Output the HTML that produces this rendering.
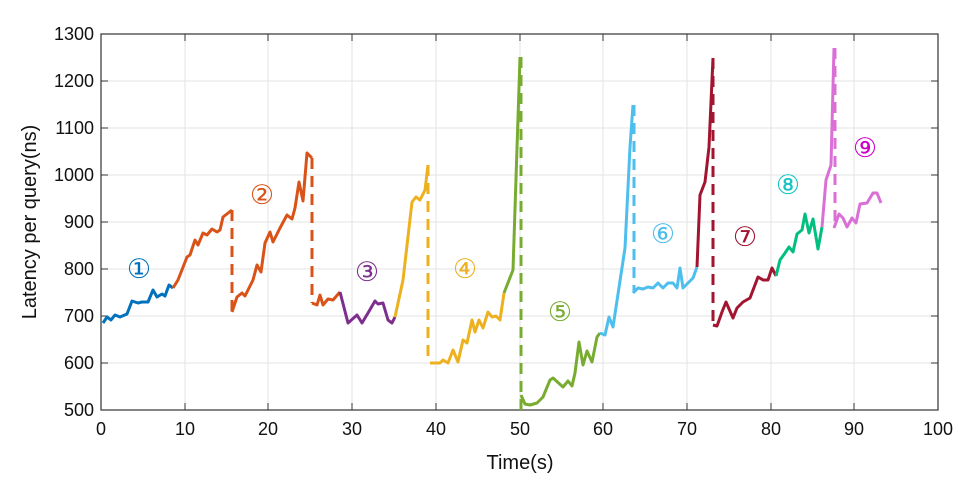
<!DOCTYPE html>
<html><head><style>body{margin:0;background:#fff}</style></head><body>
<svg width="977" height="485" xmlns="http://www.w3.org/2000/svg" font-family="Liberation Sans, DejaVu Sans, sans-serif">
<rect width="977" height="485" fill="#fff"/>
<g stroke="#e3e3e3" stroke-width="1">
<line x1="185" y1="34" x2="185" y2="410"/><line x1="268" y1="34" x2="268" y2="410"/><line x1="352" y1="34" x2="352" y2="410"/><line x1="436" y1="34" x2="436" y2="410"/><line x1="520" y1="34" x2="520" y2="410"/><line x1="603" y1="34" x2="603" y2="410"/><line x1="687" y1="34" x2="687" y2="410"/><line x1="771" y1="34" x2="771" y2="410"/><line x1="854" y1="34" x2="854" y2="410"/>
<line x1="101" y1="81" x2="938" y2="81"/><line x1="101" y1="128" x2="938" y2="128"/><line x1="101" y1="175" x2="938" y2="175"/><line x1="101" y1="222" x2="938" y2="222"/><line x1="101" y1="269" x2="938" y2="269"/><line x1="101" y1="316" x2="938" y2="316"/><line x1="101" y1="363" x2="938" y2="363"/>
</g>
<rect x="101" y="34" width="837" height="376" fill="none" stroke="#333" stroke-width="1.2"/>
<g stroke="#333" stroke-width="1">
<path d="M185,410v-7M268,410v-7M352,410v-7M436,410v-7M520,410v-7M603,410v-7M687,410v-7M771,410v-7M854,410v-7M185,34v7M268,34v7M352,34v7M436,34v7M520,34v7M603,34v7M687,34v7M771,34v7M854,34v7"/>
<path d="M101,81h7M101,128h7M101,175h7M101,222h7M101,269h7M101,316h7M101,363h7M938,81h-7M938,128h-7M938,175h-7M938,222h-7M938,269h-7M938,316h-7M938,363h-7"/>
</g>
<g font-size="18" fill="#111" text-anchor="end">
<text x="94" y="40">1300</text><text x="94" y="87">1200</text><text x="94" y="134">1100</text><text x="94" y="181">1000</text><text x="94" y="228">900</text><text x="94" y="275">800</text><text x="94" y="322">700</text><text x="94" y="369">600</text><text x="94" y="416">500</text>
</g>
<g font-size="18" fill="#111" text-anchor="middle">
<text x="101" y="435">0</text><text x="185" y="435">10</text><text x="268" y="435">20</text><text x="352" y="435">30</text><text x="436" y="435">40</text><text x="520" y="435">50</text><text x="603" y="435">60</text><text x="687" y="435">70</text><text x="771" y="435">80</text><text x="854" y="435">90</text><text x="938" y="435">100</text>
</g>
<text x="520" y="469" font-size="20" text-anchor="middle" fill="#111">Time(s)</text>
<text transform="translate(36,222) rotate(-90)" font-size="20" text-anchor="middle" fill="#111">Latency per query(ns)</text>
<g fill="none" stroke-width="3" stroke-linejoin="round">
<polyline stroke="#0072BD" points="103,323 107,317 111,320 115,315 120,317 127,314 132,301 138,303 142,302 148,302 153,290 157,297 162,294 165,296 169,285 173,288"/>
<polyline stroke="#D95319" points="173,288 178,280 187,257 190,255 195,240 198,245 203,233 207,235 212,229 217,232 220,230 223,217 232,210"/>
<polyline stroke="#D95319" points="232,312 237,297 242,293 245,296 253,280 257,265 261,272 265,243 270,232 273,242 280,228 287,215 292,219 295,208 299,182 303,201 307,153 312,158"/>
<polyline stroke="#D95319" points="312,303 317,305 320,295 323,305 328,299 333,300 340,292"/>
<polyline stroke="#7E2F8E" points="340,292 348,323 357,315 362,323 368,313 375,301 378,304 383,303 388,320 392,323 395,317"/>
<polyline stroke="#EDB120" points="395,317 403,280 412,202 416,197 420,200 425,190 428,165"/>
<polyline stroke="#EDB120" points="430,363 440,363 443,360 448,363 453,350 458,362 463,340 467,343 472,320 475,332 479,320 483,328 488,312 492,317 496,316 500,320 504,293"/>
<polyline stroke="#77AC30" points="504,293 513,270 520,57"/>
<polyline stroke="#77AC30" points="521,395 525,404 530,405 537,403 543,397 550,380 553,378 563,387 568,381 572,386 575,373 579,342 583,365 587,351 592,362 597,337 600,333"/>
<polyline stroke="#4DBEEE" points="600,333 605,335 609,317 613,327 625,248 630,147 633,105"/>
<polyline stroke="#4DBEEE" points="633,293 638,288 643,289 648,287 653,288 658,283 663,288 668,283 673,283 677,288 680,268 683,288 693,278 697,267"/>
<polyline stroke="#A2142F" points="697,267 700,195 705,182 709,147 713,58"/>
<polyline stroke="#A2142F" points="713,325 717,326 722,312 726,302 733,318 737,308 743,302 750,298 758,277 763,280 768,280 772,268 776,276"/>
<polyline stroke="#00BF7F" points="776,276 780,260 785,253 789,247 793,252 797,234 802,230 805,214 809,233 813,219 818,249 822,227"/>
<polyline stroke="#DA70D6" points="822,227 826,180 831,165 834,48"/>
<polyline stroke="#DA70D6" points="834,228 839,214 843,218 847,227 852,218 856,223 860,204 867,203 873,193 877,193 881,203"/>
</g>
<g fill="none" stroke-width="3" stroke-dasharray="11,7">
<line x1="232" y1="210" x2="232" y2="312" stroke="#D95319"/>
<line x1="312" y1="158" x2="312" y2="303" stroke="#D95319"/>
<line x1="428" y1="165" x2="428" y2="363" stroke="#EDB120"/>
<line x1="521" y1="57" x2="521" y2="410" stroke="#77AC30"/>
<line x1="634" y1="105" x2="634" y2="293" stroke="#4DBEEE"/>
<line x1="713" y1="58" x2="713" y2="325" stroke="#A2142F"/>
<line x1="835" y1="48" x2="835" y2="228" stroke="#DA70D6"/>
</g>
<g font-size="27" text-anchor="middle" font-family="DejaVu Sans, Noto Sans CJK JP, sans-serif">
<text x="139" y="278" fill="#0072BD">①</text>
<text x="262" y="204" fill="#D95319">②</text>
<text x="367" y="281" fill="#7E2F8E">③</text>
<text x="465" y="278" fill="#EDB120">④</text>
<text x="560" y="321" fill="#77AC30">⑤</text>
<text x="663" y="243" fill="#4DBEEE">⑥</text>
<text x="745" y="246" fill="#A2142F">⑦</text>
<text x="788" y="194" fill="#19C3C3">⑧</text>
<text x="865" y="157" fill="#CC00CC">⑨</text>
</g>
</svg>
</body></html>
